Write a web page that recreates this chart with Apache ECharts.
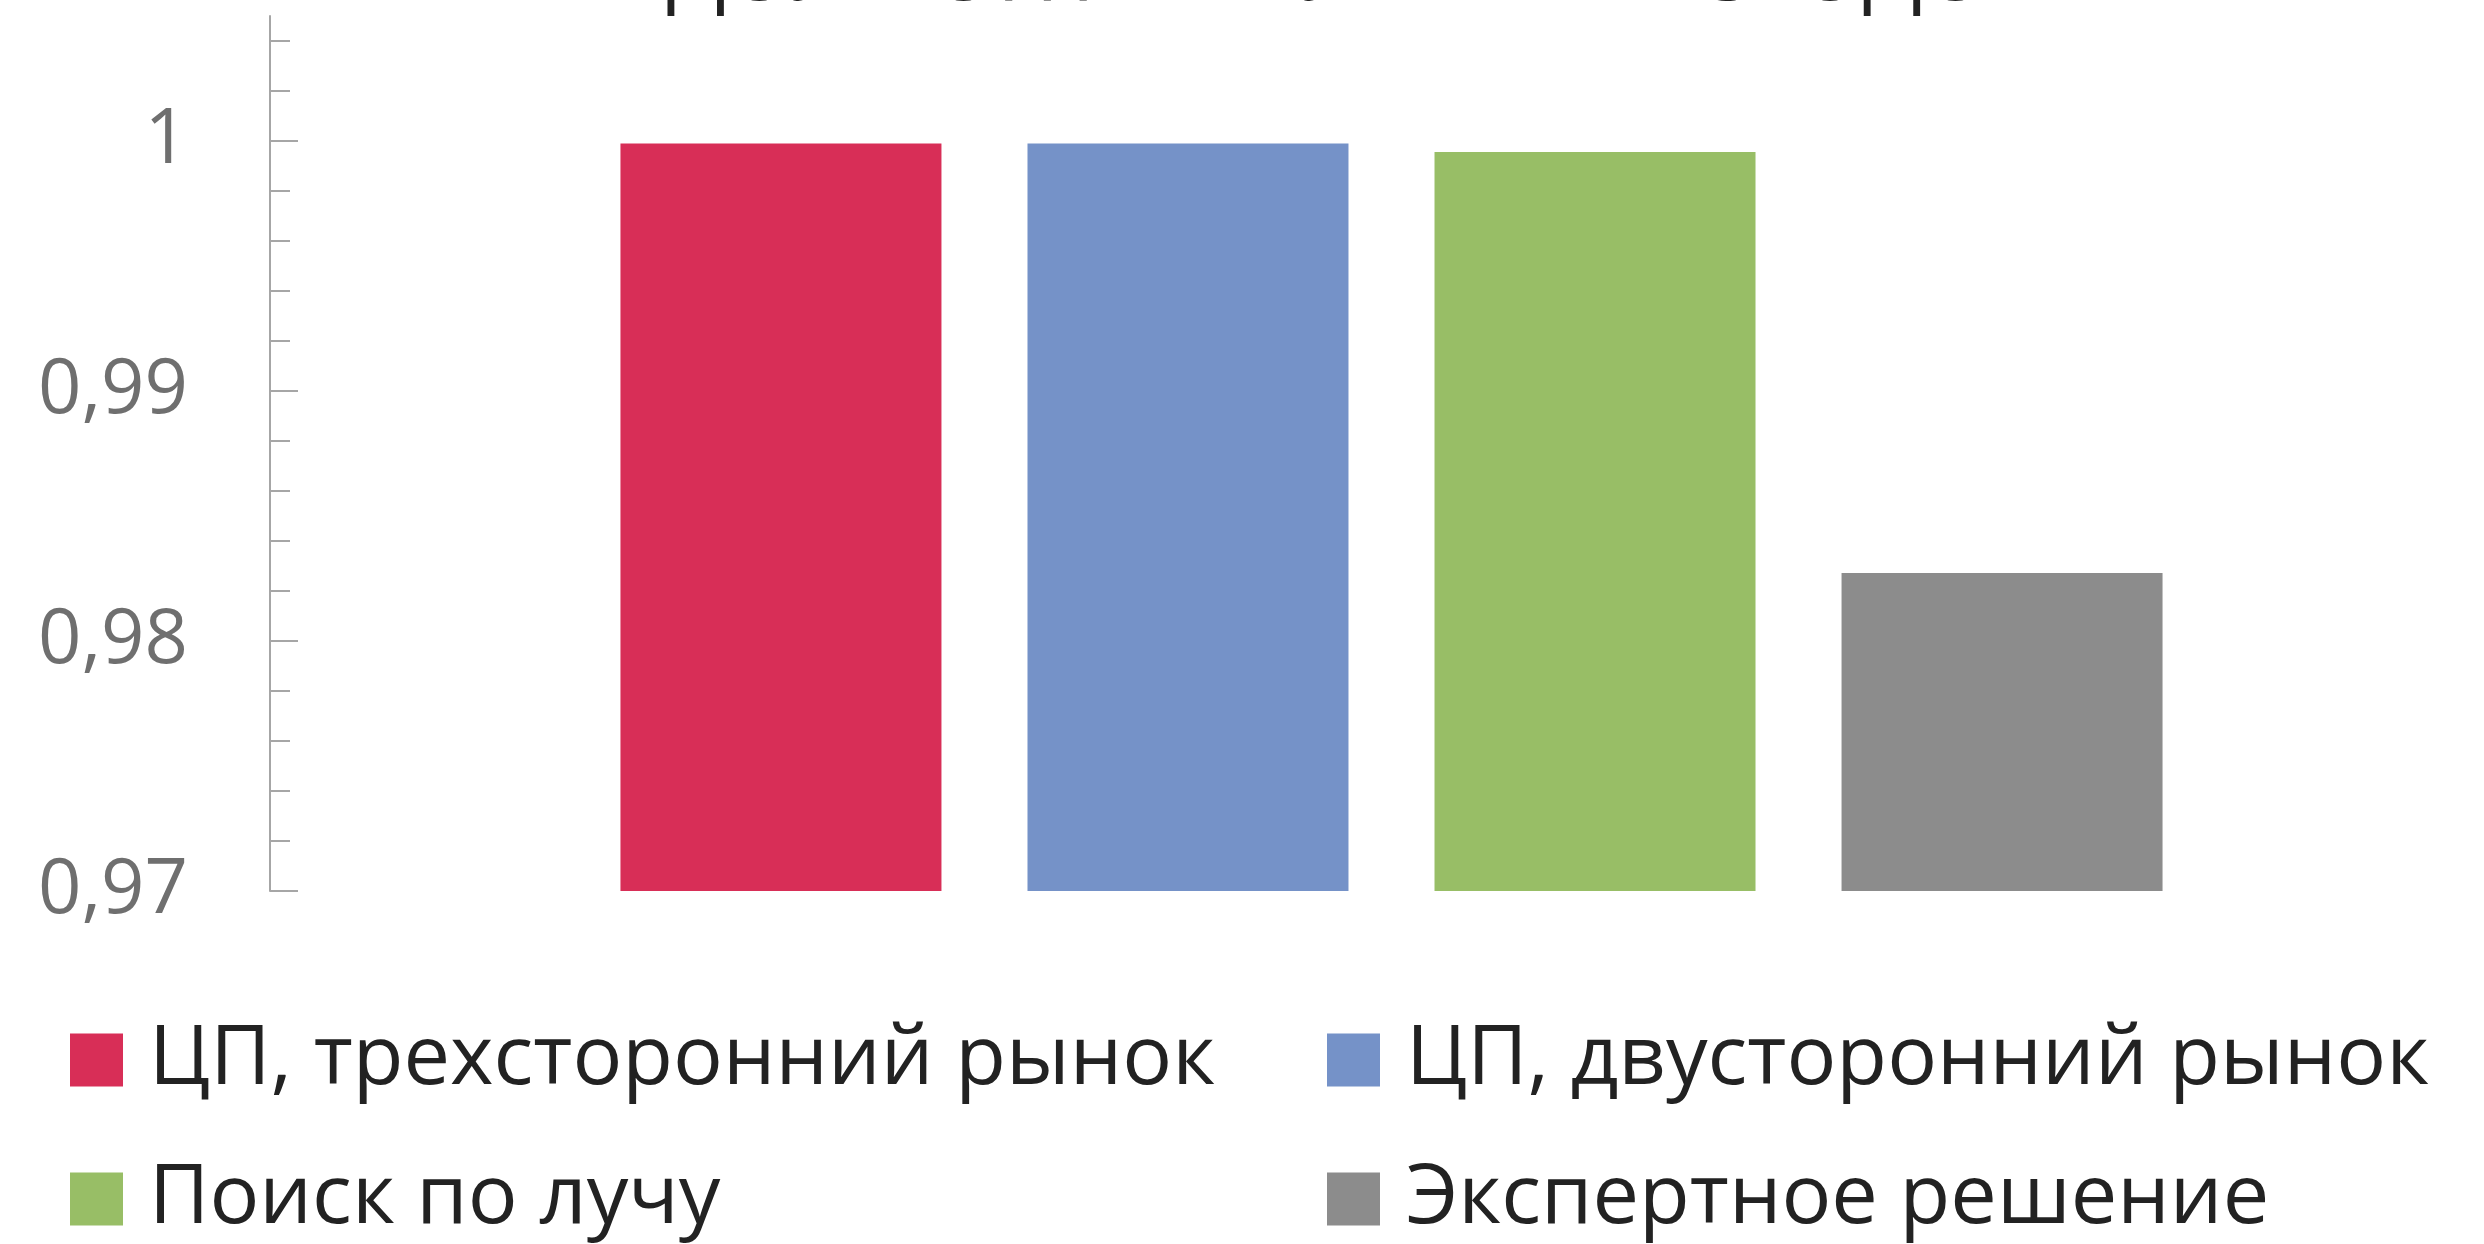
<!DOCTYPE html>
<html><head><meta charset="utf-8">
<script src="https://cdn.jsdelivr.net/npm/echarts@6/dist/echarts.min.js"></script>
<style>html,body{margin:0;padding:0;background:#fff}#c{width:2484px;height:1244px}</style>
</head><body><div id="c"></div>
<script>
// ---- data ----
const titleText = 'ДОЛЯ ОПТИМАЛЬНЫХ ИСХОДОВ';
const categories = [''];
const seriesNames = ['ЦП, трехсторонний рынок', 'ЦП, двусторонний рынок', 'Поиск по лучу', 'Экспертное решение'];
const valTriMarket = [0.9999];
const valBiMarket = [0.9999];
const valBeam = [0.99956];
const valExpert = [0.98272];
const seriesColors = ['#D82E57', '#7592C8', '#98BE66', '#8C8C8C'];
const yMin = 0.97;
const yAxisTop = 1.005;
const yMinorTop = 1.004;
const yMajorTop = 1.0;
const majorStep = 0.01;
const minorStep = 0.002;

const seriesValues = [valTriMarket, valBiMarket, valBeam, valExpert];
const FONT = '"Open Sans", "Noto Sans", sans-serif';
const axisColor = '#A6A6A6';

const chart = echarts.init(document.getElementById('c'), null, {renderer: 'canvas'});
const gridBase = {left: 270, right: -29, bottom: 353, outerBoundsMode: 'none', containLabel: false};

const legendText = {fontFamily: FONT, fontSize: 83, lineHeight: 84, color: '#222222', padding: [0, 0, 0, 21]};

const option = {
  backgroundColor: '#ffffff',
  animation: false,
  title: {
    text: titleText,
    left: 667, top: -68, padding: 0,
    textStyle: {fontFamily: FONT, fontSize: 86, fontWeight: 'normal', color: '#222222'}
  },
  legend: [
    {
      data: [seriesNames[0], seriesNames[2]],
      orient: 'vertical', left: 70, top: 1018, padding: 0,
      itemWidth: 53, itemHeight: 53, itemGap: 55, icon: 'rect',
      selectedMode: false, textStyle: legendText
    },
    {
      data: [seriesNames[1], seriesNames[3]],
      orient: 'vertical', left: 1327, top: 1018, padding: 0,
      itemWidth: 53, itemHeight: 53, itemGap: 55, icon: 'rect',
      selectedMode: false, textStyle: legendText
    }
  ],
  grid: [
    Object.assign({top: 16}, gridBase),
    Object.assign({top: 41}, gridBase),
    Object.assign({top: 141}, gridBase)
  ],
  xAxis: [0, 1, 2].map(i => ({type: 'category', gridIndex: i, data: categories, show: false})),
  yAxis: [
    {
      type: 'value', gridIndex: 0, min: yMin, max: yAxisTop,
      axisLine: {show: true, lineStyle: {color: axisColor, width: 2}},
      axisTick: {show: false}, axisLabel: {show: false}, splitLine: {show: false}
    },
    {
      type: 'value', gridIndex: 1, min: yMin, max: yMinorTop, interval: minorStep,
      axisLine: {show: false},
      axisTick: {show: true, inside: true, length: 20, lineStyle: {color: axisColor, width: 2}},
      axisLabel: {show: false}, splitLine: {show: false}
    },
    {
      type: 'value', gridIndex: 2, min: yMin, max: yMajorTop, interval: majorStep,
      axisLine: {show: false},
      axisTick: {show: true, inside: true, length: 28, lineStyle: {color: axisColor, width: 2}},
      axisLabel: {
        show: true, margin: 82, showMinLabel: true, showMaxLabel: true,
        fontFamily: FONT, fontSize: 76, color: '#6F6F6F',
        formatter: v => String(Math.round(v * 100) / 100).replace('.', ',')
      },
      splitLine: {show: false}
    }
  ],
  series: seriesNames.map((name, i) => ({
    name: name,
    type: 'bar',
    xAxisIndex: 0, yAxisIndex: 0,
    data: seriesValues[i],
    barWidth: 321,
    barGap: '26.8%',
    itemStyle: {color: seriesColors[i]}
  }))
};
chart.setOption(option);
</script>
</body></html>
